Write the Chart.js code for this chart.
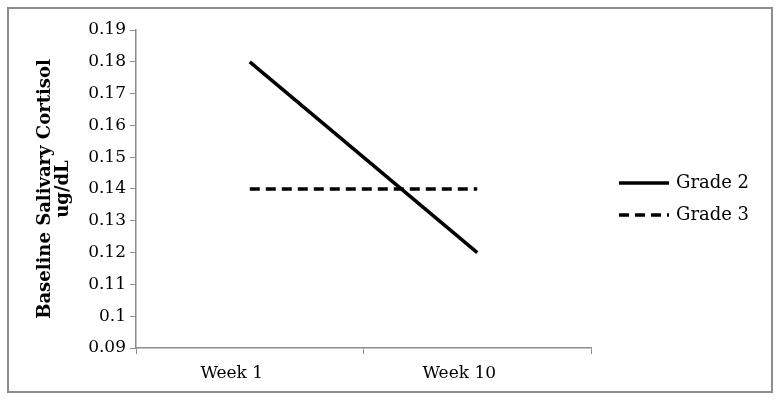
<!DOCTYPE html>
<html>
<head>
<meta charset="utf-8">
<script src="https://cdn.jsdelivr.net/npm/chart.js"></script>
<style>
  body { margin: 0; background: #fff; }
  #box { position: absolute; left: 7px; top: 7px; width: 762px; height: 382px; border: 2px solid #8c8c8c; }
  canvas { display: block; }
</style>
</head>
<body>
<div id="box"><canvas id="cortisolChart" width="762" height="382"></canvas></div>
<script>
const weeks = ['Week 1', 'Week 10'];
const grade2 = [0.18, 0.12];
const grade3 = [0.14, 0.14];
const yTitle = ['Baseline Salivary Cortisol', 'ug/dL'];

// legend drawn by hand so it sits where the original one does
const sideLegend = {
  id: 'sideLegend',
  afterDraw(chart) {
    const ctx = chart.ctx;
    const area = chart.chartArea;
    const x0 = area.right + 28;
    let y = area.top + 153;
    ctx.save();
    ctx.font = '18px "DejaVu Serif"';
    ctx.textBaseline = 'middle';
    ctx.fillStyle = '#000';
    chart.data.datasets.forEach(ds => {
      ctx.beginPath();
      ctx.setLineDash(ds.borderDash || []);
      ctx.lineWidth = ds.borderWidth;
      ctx.strokeStyle = ds.borderColor;
      ctx.moveTo(x0, y);
      ctx.lineTo(x0 + 50, y);
      ctx.stroke();
      ctx.setLineDash([]);
      ctx.fillText(ds.label, x0 + 57, y);
      y += 32;
    });
    ctx.restore();
  }
};

new Chart(document.getElementById('cortisolChart'), {
  type: 'line',
  data: {
    labels: weeks,
    datasets: [
      {
        label: 'Grade 2',
        data: grade2,
        borderColor: '#000',
        borderWidth: 3.5,
        pointRadius: 0,
        tension: 0
      },
      {
        label: 'Grade 3',
        data: grade3,
        borderColor: '#000',
        borderWidth: 3.5,
        borderDash: [10, 6],
        pointRadius: 0,
        tension: 0
      }
    ]
  },
  options: {
    responsive: false,
    animation: false,
    layout: { padding: { top: 21, right: 180, bottom: 0, left: 0 } },
    plugins: {
      legend: { display: false },
      tooltip: { enabled: false }
    },
    scales: {
      x: {
        offset: true,
        grid: { offset: true, drawOnChartArea: false, color: '#8c8c8c', tickLength: 6 },
        border: { color: '#8c8c8c', width: 1.5 },
        ticks: { color: '#000', font: { family: 'DejaVu Serif', size: 17 }, padding: 9, labelOffset: -18 },
        afterFit(scale) { scale.height = 43; }
      },
      y: {
        min: 0.09,
        max: 0.19,
        grid: { drawOnChartArea: false, color: '#8c8c8c', tickLength: 6 },
        border: { color: '#8c8c8c', width: 1.5 },
        ticks: {
          stepSize: 0.01,
          color: '#000',
          padding: 4,
          font: { family: 'DejaVu Serif', size: 17 },
          callback: v => String(Number(v.toFixed(2)))
        },
        title: {
          display: true,
          text: yTitle,
          color: '#000',
          font: { family: 'DejaVu Serif', size: 18, weight: 'bold', lineHeight: 1.0 },
          padding: { top: 27, bottom: 0 }
        },
        afterFit(scale) { scale.width = 127; }
      }
    }
  },
  plugins: [sideLegend]
});
</script>
</body>
</html>
